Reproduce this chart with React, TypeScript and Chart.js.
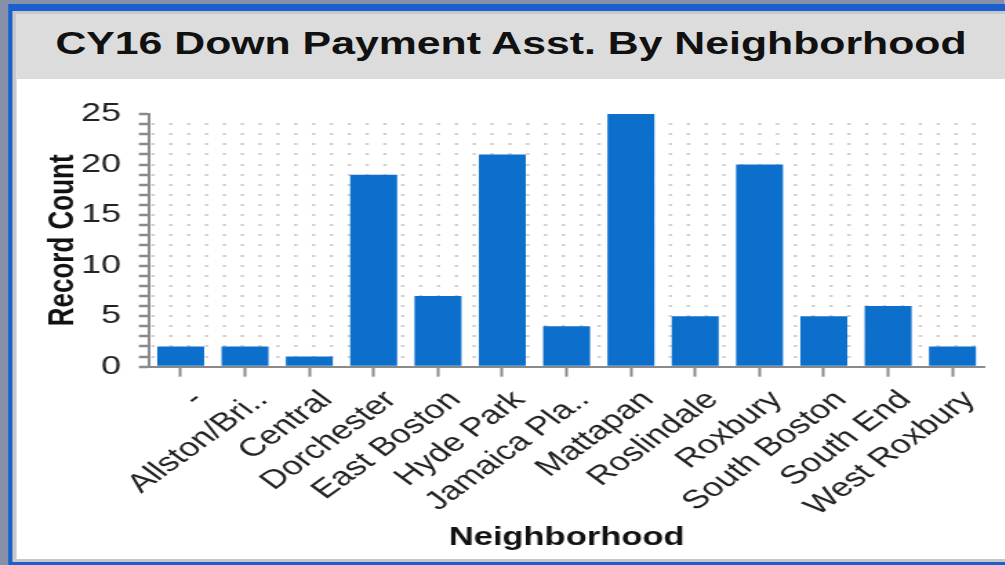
import React, { useEffect, useRef } from 'react';
import { Chart, registerables } from 'chart.js';

Chart.register(...registerables);

const categories = [
  '-',
  'Allston/Bri..',
  'Central',
  'Dorchester',
  'East Boston',
  'Hyde Park',
  'Jamaica Pla..',
  'Mattapan',
  'Roslindale',
  'Roxbury',
  'South Boston',
  'South End',
  'West Roxbury',
];
const recordCounts = [2, 2, 1, 19, 7, 21, 4, 25, 5, 20, 5, 6, 2];
const yLabelValues = [0, 5, 10, 15, 20, 25];
const titleText = 'CY16 Down Payment Asst. By Neighborhood';
const xAxisTitle = 'Neighborhood';
const yAxisTitle = 'Record Count';

// the reference picture is stretched horizontally
const S = 1.38;
const W = 1005 / S;
const FRAME_OUT = 8 / S;
const FRAME_BLUE = 13 / S;
const FRAME_IN = 17 / S;
const CANVAS_W = 740;
const CANVAS_H = 480;
const RIGHT_PAD = 14.5 + (CANVAS_W - 716);

export default function App() {
  const ref = useRef<HTMLCanvasElement | null>(null);

  useEffect(() => {
    const canvas = ref.current;
    if (!canvas) return;
    Chart.defaults.font.family = "'Liberation Sans', Arial, sans-serif";
    const chart = new Chart(canvas, {
      type: 'bar',
      data: {
        labels: categories,
        datasets: [
          {
            label: yAxisTitle,
            data: recordCounts,
            backgroundColor: '#0c6fcc',
            borderWidth: 0,
            barPercentage: 0.73,
            categoryPercentage: 1,
          },
        ],
      },
      options: {
        animation: false,
        responsive: false,
        devicePixelRatio: 1,
        layout: { padding: { top: 35, right: RIGHT_PAD, left: 0, bottom: 0 } },
        plugins: {
          legend: { display: false },
          tooltip: { enabled: false },
          title: { display: false },
        },
        scales: {
          x: {
            type: 'category',
            afterFit: (scale: any) => {
              scale.height = 192.3;
            },
            grid: {
              display: true,
              drawOnChartArea: false,
              drawTicks: true,
              tickLength: 10,
              offset: false,
              tickColor: '#8a8a8a',
              tickWidth: 2,
            },
            border: { display: true, color: '#8a8a8a', width: 2 },
            ticks: {
              autoSkip: false,
              minRotation: 45,
              maxRotation: 45,
              color: '#222222',
              padding: 8,
              labelOffset: 12.5,
              font: { size: 26 },
            },
            title: {
              display: true,
              text: xAxisTitle,
              color: '#111111',
              font: { size: 25, weight: 'bold' },
              padding: { top: 0, bottom: 6 },
            },
          },
          y: {
            min: 0,
            max: 25,
            afterFit: (scale: any) => {
              scale.width = 95.65;
            },
            grid: {
              display: true,
              drawOnChartArea: true,
              drawTicks: true,
              tickLength: 7,
              lineWidth: 2,
              color: (ctx: any) => {
                const v = ctx.tick ? ctx.tick.value : null;
                return v === 0 || v === 25 ? 'rgba(0,0,0,0)' : '#d0d0d0';
              },
              tickColor: '#8a8a8a',
              tickWidth: 2.5,
            },
            border: {
              display: true,
              color: '#8a8a8a',
              width: 2,
              dash: [2.5, 10.43],
              dashOffset: 12.3,
            },
            ticks: {
              stepSize: 1,
              autoSkip: false,
              color: '#222222',
              padding: 13,
              font: { size: 26 },
              callback: (v: any) => (yLabelValues.includes(Number(v)) ? String(v) : ''),
            },
            title: {
              display: true,
              text: yAxisTitle,
              color: '#111111',
              font: { size: 26, weight: 'bold' },
              padding: { top: 18, bottom: 0 },
            },
          },
        },
      },
    });
    return () => chart.destroy();
  }, []);

  return (
    <div
      style={{
        position: 'fixed',
        left: 0,
        top: 0,
        width: W,
        height: 565,
        background: '#8790aa',
        transform: `scaleX(${S})`,
        transformOrigin: '0 0',
        fontFamily: "'Liberation Sans', Arial, sans-serif",
      }}
    >
      <div
        style={{
          position: 'absolute',
          left: FRAME_OUT,
          top: 4,
          right: -30,
          bottom: 0,
          background: '#1a5fd0',
        }}
      />
      <div
        style={{
          position: 'absolute',
          left: FRAME_BLUE,
          top: 11,
          right: -30,
          bottom: 3,
          background: '#c8c8c8',
        }}
      />
      <div
        style={{
          position: 'absolute',
          left: FRAME_IN,
          top: 14,
          right: -30,
          bottom: 6,
          background: '#ffffff',
        }}
      />
      <div
        style={{
          position: 'absolute',
          left: FRAME_IN,
          top: 14,
          width: W - FRAME_IN,
          height: 65,
          background: '#dcdcdc',
          textAlign: 'center',
          fontWeight: 'bold',
          fontSize: 31,
          lineHeight: '60px',
          color: '#111111',
          whiteSpace: 'nowrap',
        }}
      >
        {titleText}
      </div>
      <div
        style={{
          position: 'absolute',
          left: W - 1,
          top: 14,
          width: 32,
          height: 65,
          background: '#dcdcdc',
        }}
      />
      <canvas
        ref={ref}
        width={CANVAS_W}
        height={CANVAS_H}
        style={{
          position: 'absolute',
          left: FRAME_IN,
          top: 79,
          width: CANVAS_W,
          height: CANVAS_H,
          display: 'block',
        }}
      />
    </div>
  );
}
